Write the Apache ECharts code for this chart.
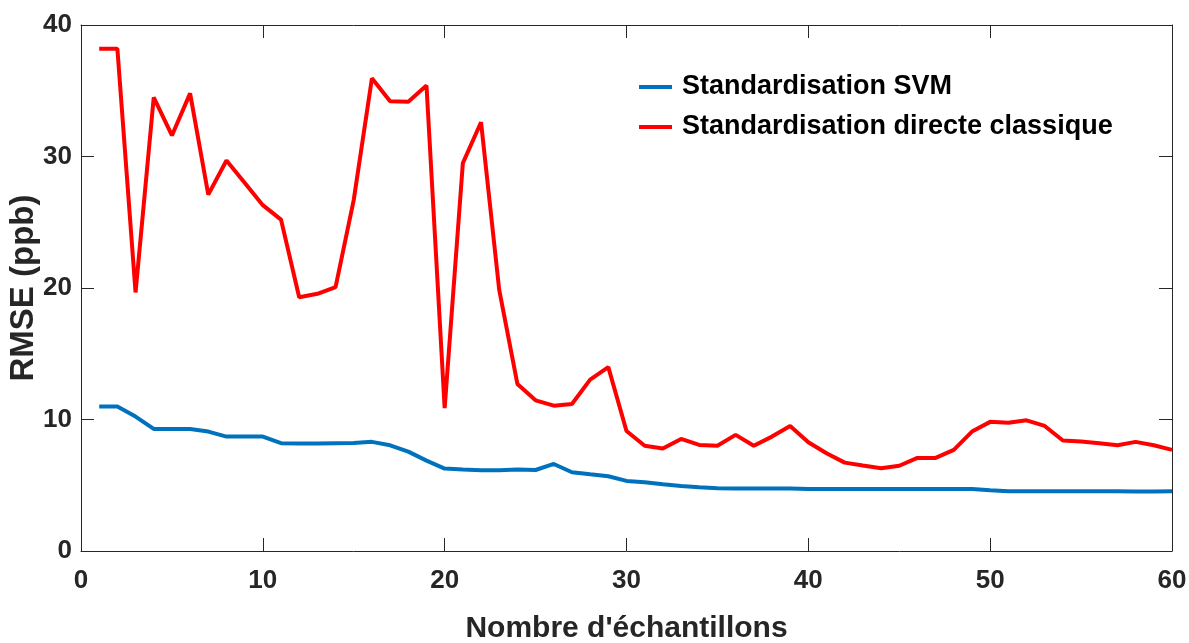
<!DOCTYPE html>
<html>
<head>
<meta charset="utf-8">
<script src="https://cdn.jsdelivr.net/npm/echarts@6/dist/echarts.min.js"></script>
<style>html,body{margin:0;padding:0;background:#fff;}#c{width:1189px;height:643px;}</style>
</head>
<body>
<div id="c"></div>
<script>
const xValues = [1,2,3,4,5,6,7,8,9,10,11,12,13,14,15,16,17,18,19,20,21,22,23,24,25,26,27,28,29,30,31,32,33,34,35,36,37,38,39,40,41,42,43,44,45,46,47,48,49,50,51,52,53,54,55,56,57,58,59,60];
const svmValues = [10.98,10.98,10.22,9.28,9.28,9.28,9.08,8.7,8.7,8.7,8.2,8.18,8.18,8.2,8.22,8.3,8.04,7.56,6.87,6.27,6.19,6.14,6.14,6.19,6.16,6.62,5.99,5.83,5.68,5.33,5.23,5.07,4.95,4.85,4.77,4.75,4.75,4.75,4.75,4.72,4.72,4.72,4.72,4.71,4.71,4.72,4.72,4.72,4.72,4.62,4.55,4.55,4.55,4.55,4.55,4.55,4.54,4.52,4.52,4.54];
const directValues = [38.2,38.2,19.66,34.5,31.6,34.8,27.1,29.7,28.0,26.3,25.2,19.3,19.56,20.07,26.7,35.95,34.2,34.17,35.4,10.86,29.5,32.6,19.86,12.7,11.46,11.05,11.18,13.03,13.98,9.13,8.0,7.8,8.52,8.07,8.0,8.83,8.0,8.7,9.51,8.27,7.43,6.72,6.5,6.29,6.48,7.08,7.08,7.69,9.08,9.82,9.76,9.94,9.51,8.4,8.32,8.2,8.04,8.3,8.04,7.69];
const seriesNames = ['Standardisation SVM','Standardisation directe classique'];
const xTitle = "Nombre d'échantillons";
const yTitle = 'RMSE (ppb)';

const FONT = "'Liberation Sans Narrow','Arial Narrow','Liberation Sans',Arial,sans-serif";
const chart = echarts.init(document.getElementById('c'), null, {renderer:'canvas'});
const axisColor = '#262626';
const lbl = {fontFamily: FONT, fontWeight: 'bold', fontSize: 26, color: axisColor};
chart.setOption({
  animation: false,
  backgroundColor: '#fff',
  grid: {left: 81, right: 17, top: 25, bottom: 92, containLabel: false, outerBoundsMode: 'none'},
  legend: {
    orient: 'vertical', left: 634, top: 67,
    itemWidth: 33, itemHeight: 4, itemGap: 10,
    icon: 'rect',
    textStyle: {fontFamily: FONT, fontWeight: 'bold', fontSize: 27, color: '#000', lineHeight: 30, padding: [0,0,0,5]},
    data: seriesNames
  },
  xAxis: [{
    type: 'value', min: 0, max: 60, interval: 10, position: 'bottom',
    name: xTitle, nameLocation: 'middle', nameGap: 63, nameMoveOverlap: false,
    nameTextStyle: {fontFamily: FONT, fontWeight: 'bold', fontSize: 30, color: axisColor},
    axisLine: {onZero: false, lineStyle: {color: axisColor, width: 1}},
    axisTick: {inside: true, length: 13, lineStyle: {color: axisColor}},
    axisLabel: Object.assign({margin: 17}, lbl),
    splitLine: {show: false}
  }, {
    type: 'value', min: 0, max: 60, interval: 10, position: 'top',
    axisLine: {onZero: false, lineStyle: {color: axisColor, width: 1}},
    axisTick: {inside: true, length: 13, lineStyle: {color: axisColor}},
    axisLabel: {show: false}, splitLine: {show: false}
  }],
  yAxis: [{
    type: 'value', min: 0, max: 40, interval: 10, position: 'left',
    name: yTitle, nameLocation: 'middle', nameGap: 41, nameMoveOverlap: false,
    nameTextStyle: {fontFamily: FONT, fontWeight: 'bold', fontSize: 33, color: axisColor},
    axisLine: {show: true, onZero: false, lineStyle: {color: axisColor, width: 1}},
    axisTick: {show: true, inside: true, length: 13, lineStyle: {color: axisColor}},
    axisLabel: Object.assign({margin: 9}, lbl),
    splitLine: {show: false}
  }, {
    type: 'value', min: 0, max: 40, interval: 10, position: 'right',
    axisLine: {show: true, onZero: false, lineStyle: {color: axisColor, width: 1}},
    axisTick: {show: true, inside: true, length: 13, lineStyle: {color: axisColor}},
    axisLabel: {show: false}, splitLine: {show: false}
  }],
  series: [{
    name: seriesNames[0], type: 'line', xAxisIndex: 0, yAxisIndex: 0,
    data: xValues.map((x, i) => [x, svmValues[i]]),
    showSymbol: false, symbol: 'none', color: '#0072BD',
    lineStyle: {width: 4, color: '#0072BD'}
  }, {
    name: seriesNames[1], type: 'line', xAxisIndex: 0, yAxisIndex: 0,
    data: xValues.map((x, i) => [x, directValues[i]]),
    showSymbol: false, symbol: 'none', color: '#FF0000',
    lineStyle: {width: 4, color: '#FF0000'}
  }]
});
</script>
</body>
</html>
